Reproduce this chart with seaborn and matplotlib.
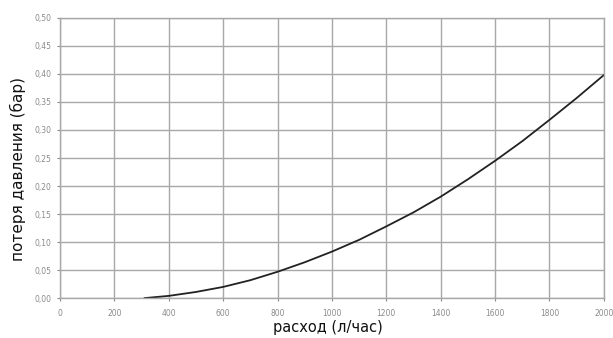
import matplotlib
matplotlib.use("Agg")
import matplotlib.pyplot as plt
import seaborn as sns
import pandas as pd
from matplotlib.ticker import FuncFormatter, MultipleLocator

# flow (l/h) vs pressure loss (bar)
flow = [310, 400, 500, 600, 700, 800, 900, 1000, 1100, 1200, 1300, 1400,
        1500, 1600, 1700, 1800, 1900, 2000]
loss = [0.0, 0.004, 0.011, 0.020, 0.032, 0.047, 0.064, 0.083, 0.104, 0.128,
        0.153, 0.181, 0.212, 0.245, 0.280, 0.318, 0.357, 0.398]

df = pd.DataFrame({"flow": flow, "loss": loss})

sns.set_theme(style="white")
plt.rcParams["font.family"] = ["DejaVu Sans"]

fig = plt.figure(figsize=(6.13, 3.38), dpi=100)
ax = fig.add_axes([0.098, 0.118, 0.887, 0.829])

sns.lineplot(data=df, x="flow", y="loss", ax=ax, color="#222222", linewidth=1.3)

ax.set_xlim(0, 2000)
ax.set_ylim(0, 0.5)
ax.xaxis.set_major_locator(MultipleLocator(200))
ax.yaxis.set_major_locator(MultipleLocator(0.05))
ax.yaxis.set_major_formatter(FuncFormatter(lambda v, p: f"{v:.2f}".replace(".", ",")))
ax.xaxis.set_major_formatter(FuncFormatter(lambda v, p: f"{int(round(v))}"))

ax.grid(True, color="#a8a8a8", linewidth=1.0)
for s in ax.spines.values():
    s.set_color("#a8a8a8")
    s.set_linewidth(1.0)

ax.tick_params(axis="both", labelsize=5.5, colors="#8a8a8a", length=2, width=0.8,
               direction="out", pad=4)
ax.tick_params(axis="x", bottom=True, pad=6)
ax.tick_params(axis="y", left=True)

ax.set_xlabel("расход (л/час)", fontsize=10.5, color="#111111")
ax.set_ylabel("потеря давления (бар)", fontsize=11, color="#111111")
ax.xaxis.set_label_coords(0.493, -0.078)
ax.yaxis.set_label_coords(-0.062, 0.46)

fig.savefig("out.png", dpi=100)
